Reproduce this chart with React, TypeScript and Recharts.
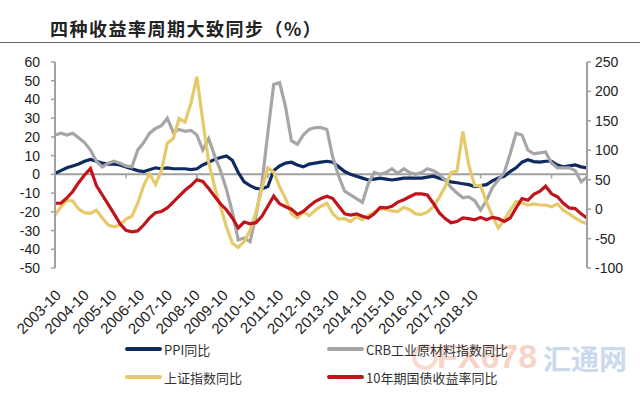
import React from "react";
import { LineChart, Line, XAxis, YAxis, ReferenceLine } from "recharts";

// bi-monthly samples, 2003-10 .. 2018-10
const months: string[] = [];
for (let y = 2003, m = 10; months.length < 91; ) {
  months.push(`${y}-${String(m).padStart(2, "0")}`);
  m += 2;
  if (m > 12) {
    m -= 12;
    y += 1;
  }
}

const ppi = [
  0.5, 2, 3.5, 4.5, 5.5, 7, 8, 7, 6, 5.5, 5.5, 5, 4, 3, 2, 1.5, 2.5, 3.5, 3, 3.5,
  3, 3, 3, 2.5, 3, 5, 6.5, 8, 9, 9.8, 7.5, 1, -4, -6, -7.5, -7.8, -6.5, 2, 4.5, 6,
  6.5, 5, 4, 5.5, 6, 6.5, 7, 6.5, 4, 1.5, 0, -1, -2, -3, -2.5, -2, -2.5, -3, -2.5, -2,
  -2, -2, -2, -1.5, -1, -2, -3, -4, -4.5, -5, -5.5, -6.5, -6, -5.5, -3.5, -2, -1, 1.5, 3.5, 6.5,
  7.8, 6.8, 6.5, 7, 7, 5, 4, 4.5, 5, 4, 3.5,
];

const crb = [
  21, 22, 21, 22, 19.5, 17, 13, 7, 4, 6, 7, 6, 4.5, 4, 13, 17, 22, 24.5, 26, 30,
  22.5, 24, 23, 23.5, 21, 13, 19, 10, 2, -8, -20, -35, -34, -36, -22, -5, 22, 48, 49, 36,
  18, 16, 21, 24, 25, 25, 24, 9, -1, -9, -11, -13, -15, -5, 1, 0, 1, 3, 0.5, 3,
  1, 0, 1, 3, 2, 0, -3, -7, -10, -12.5, -12, -14, -19, -14, -7, -3, 1, 11, 22, 21,
  13, 11, 11.5, 12, 6, 3.5, 3.5, 3.5, 2, -4, -1.5,
];

const shIndex = [
  -10, 4, 15, 14, 0, -6, -7, -2, -15, -27, -30, -27, -17, -12, 10, 40, 60, 42, 65, 112,
  120, 154, 148, 180, 225, 150, 80, 38, 4, -30, -58, -65, -55, -36, -5, 35, 70, 63, 38, 18,
  -8, -15, -5, -11, -2, 5, 10, -8, -17, -16, -21, -13, -18, -11, -5, 0, 0, -3, -4, 3,
  -1, -8, -9, -5, 4, 20, 38, 62, 65, 132, 75, 40, 40, 12, -12, -32, -18, -2, 13, 11,
  7, 9, 7, 7, 4, 9, -2, -8, -15, -21, -25,
];

const cgb10y = [
  10, 10, 19, 30, 45, 58, 69, 40, 24, 8, -8, -25, -36, -38.5, -37, -27, -15, -6, -4, 2,
  12, 22, 32, 40, 50, 47, 35, 22, 9, -1, -15, -32, -22, -25, -23, -12, 5, 22, 9, 4,
  0, -9, -4, 5, 13, 18, 22, 18, 5, -8, -10, -8, -12, -15, -8, 3, 2, 5, 12, 16,
  21, 26, 26, 24, 10, -6, -16, -23, -21, -15, -16, -18, -14, -18, -14, -16, -21, -15, 2, 18,
  15, 25, 30, 39, 26, 21, 10, 2, 1, -8, -15,
];

const yearLabels = [
  "2003-10", "2004-10", "2005-10", "2006-10", "2007-10", "2008-10", "2009-10", "2010-10",
  "2011-10", "2012-10", "2013-10", "2014-10", "2015-10", "2016-10", "2017-10", "2018-10",
];
const zeroTicks = ["2005-10", "2007-10", "2009-10", "2011-10", "2013-10", "2015-10", "2017-10"];
const leftTicks = [-50, -40, -30, -20, -10, 0, 10, 20, 30, 40, 50, 60];
const rightTicks = [-100, -50, 0, 50, 100, 150, 200, 250];

const NAVY = "#0e2a5f";
const GRAY = "#a6a6a6";
const GOLD = "#e6c96b";
const RED = "#c0141b";
const AXIS = "#a0a0a0";
const NUM_FONT = "Liberation Sans, Arial, sans-serif";
const CJK_FONT = "'Noto Sans CJK SC', sans-serif";

const data = months.map((m, i) => ({
  m,
  ppi: ppi[i],
  crb: crb[i],
  sh: shIndex[i],
  cgb: cgb10y[i],
}));

const legendItems = [
  { name: "PPI同比", color: NAVY },
  { name: "CRB工业原材料指数同比", color: GRAY },
  { name: "上证指数同比", color: GOLD },
  { name: "10年期国债收益率同比", color: RED },
];

function YearTick(props: any) {
  const { x, y, payload } = props;
  const ax = x + 4;
  const ay = y + 20;
  return (
    <text
      x={ax}
      y={ay}
      textAnchor="end"
      transform={`rotate(-45 ${ax} ${ay})`}
      fontSize={15}
      fontFamily={NUM_FONT}
      fill="#222"
    >
      {yearLabels[payload.value]}
    </text>
  );
}

export default function App() {
  return (
    <div
      style={{
        position: "absolute",
        left: 0,
        top: 0,
        width: 640,
        height: 400,
        background: "#fff",
        overflow: "hidden",
      }}
    >
      <div
        style={{
          position: "absolute",
          left: 50,
          top: 15,
          fontFamily: CJK_FONT,
          fontSize: 18,
          fontWeight: 600,
          letterSpacing: 1.5,
          color: "#222",
          whiteSpace: "nowrap",
        }}
      >
        四种收益率周期大致同步（%）
      </div>
      <div
        style={{ position: "absolute", left: 0, top: 42, width: 640, height: 1, background: "#666" }}
      />

      <LineChart
        width={640}
        height={400}
        data={data}
        margin={{ top: 62, right: 8, bottom: 72, left: 10 }}
        style={{ position: "absolute", left: 0, top: 0 }}
      >
        <XAxis xAxisId="main" dataKey="m" hide />
        <XAxis
          xAxisId="lbl"
          type="number"
          dataKey="li"
          domain={[0, 15]}
          ticks={yearLabels.map((_, i) => i)}
          interval={0}
          allowDataOverflow
          padding={{ left: 3, right: 112 }}
          height={60}
          axisLine={false}
          tickLine={false}
          tick={<YearTick />}
        />
        <YAxis
          yAxisId="left"
          domain={[-50, 60]}
          ticks={leftTicks}
          interval={0}
          allowDataOverflow
          width={45}
          axisLine={{ stroke: AXIS, strokeWidth: 2 }}
          tickLine={{ stroke: AXIS, strokeWidth: 1.5 }}
          tickSize={4}
          tickMargin={11}
          tick={{ fill: "#222", fontSize: 14, fontFamily: NUM_FONT }}
        />
        <YAxis
          yAxisId="right"
          orientation="right"
          domain={[-100, 250]}
          ticks={rightTicks}
          interval={0}
          allowDataOverflow
          width={45}
          axisLine={{ stroke: AXIS, strokeWidth: 2 }}
          tickLine={{ stroke: AXIS, strokeWidth: 1.5 }}
          tickSize={4}
          tickMargin={4}
          tick={{ fill: "#222", fontSize: 14, fontFamily: NUM_FONT }}
        />
        <ReferenceLine xAxisId="main" yAxisId="left" y={0} stroke={AXIS} strokeWidth={2} />
        {zeroTicks.map((m) => (
          <ReferenceLine
            key={m}
            xAxisId="main"
            yAxisId="left"
            segment={[
              { x: m, y: 0 },
              { x: m, y: -2.2 },
            ]}
            stroke={AXIS}
            strokeWidth={1.5}
          />
        ))}
        <Line
          xAxisId="main"
          yAxisId="left"
          dataKey="ppi"
          stroke={NAVY}
          strokeWidth={3.2}
          dot={false}
          type="linear"
          isAnimationActive={false}
        />
        <Line
          xAxisId="main"
          yAxisId="left"
          dataKey="crb"
          stroke={GRAY}
          strokeWidth={3.2}
          dot={false}
          type="linear"
          isAnimationActive={false}
        />
        <Line
          xAxisId="main"
          yAxisId="right"
          dataKey="sh"
          stroke={GOLD}
          strokeWidth={3.2}
          dot={false}
          type="linear"
          isAnimationActive={false}
        />
        <Line
          xAxisId="main"
          yAxisId="right"
          dataKey="cgb"
          stroke={RED}
          strokeWidth={3.2}
          dot={false}
          type="linear"
          isAnimationActive={false}
        />
      </LineChart>

      {legendItems.map((it, i) => (
        <div
          key={it.name}
          style={{
            position: "absolute",
            left: i % 2 === 0 ? 125 : 327,
            top: i < 2 ? 340 : 368,
            height: 18,
            display: "flex",
            alignItems: "center",
            fontFamily: CJK_FONT,
            fontSize: 13,
            color: "#333",
            whiteSpace: "nowrap",
            zIndex: 2,
          }}
        >
          <span
            style={{
              display: "inline-block",
              width: 37,
              height: 4,
              borderRadius: 2,
              background: it.color,
              marginRight: 2,
            }}
          />
          {it.name}
        </div>
      ))}

      <div
        style={{
          position: "absolute",
          left: 412,
          top: 344,
          width: 18,
          height: 18,
          borderRadius: "50%",
          border: "4px solid #f3c2b0",
          opacity: 0.6,
        }}
      />
      <div
        style={{
          position: "absolute",
          left: 437,
          top: 337,
          fontFamily: NUM_FONT,
          fontWeight: 700,
          fontSize: 34,
          color: "#f3b9a4",
          opacity: 0.6,
          whiteSpace: "nowrap",
        }}
      >
        FX678
      </div>
      <div
        style={{
          position: "absolute",
          left: 543,
          top: 338,
          fontFamily: CJK_FONT,
          fontWeight: 700,
          fontSize: 28,
          color: "#a9c1e3",
          opacity: 0.6,
          whiteSpace: "nowrap",
        }}
      >
        汇通网
      </div>
    </div>
  );
}
